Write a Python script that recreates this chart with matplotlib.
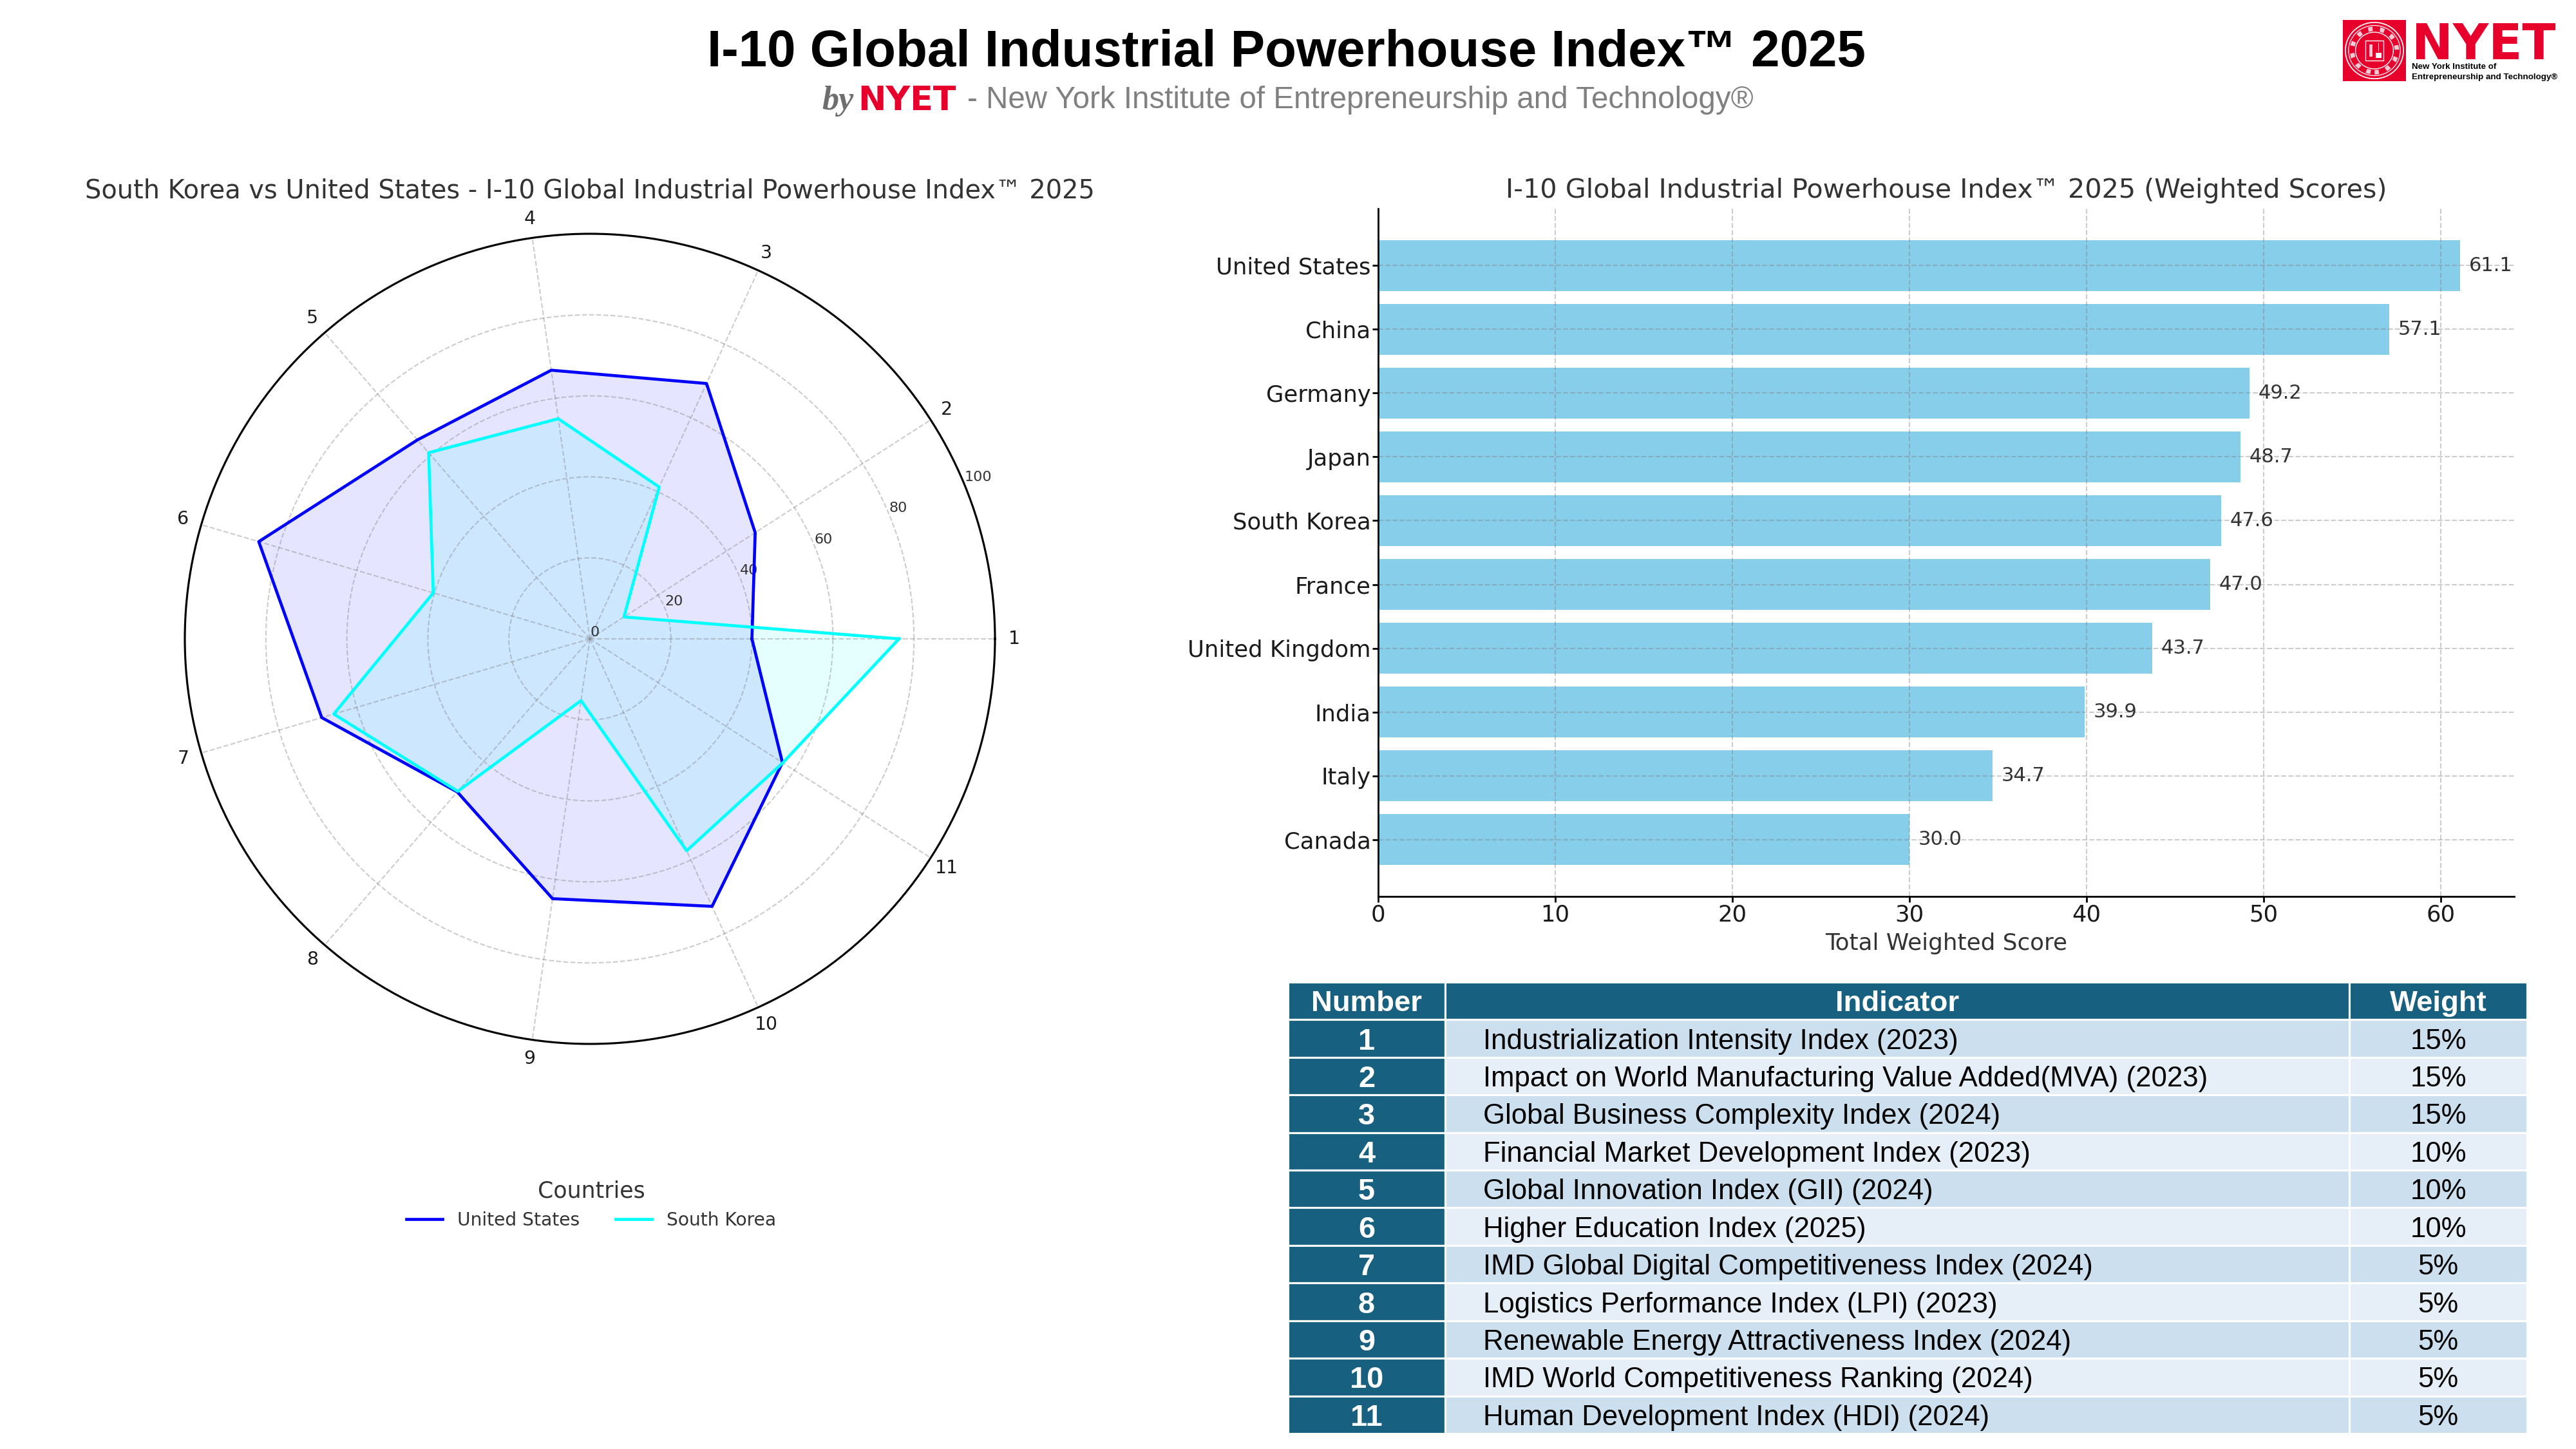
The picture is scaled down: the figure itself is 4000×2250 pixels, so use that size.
# -*- coding: utf-8 -*-
"""I-10 Global Industrial Powerhouse Index 2025: radar + bars + indicator table"""
import numpy as np
import matplotlib
matplotlib.use('Agg')
import matplotlib.pyplot as plt
from matplotlib.patches import Rectangle, Circle
from matplotlib.table import Table

W, H = 4000, 2250

# radar data
axis_numbers = ['1', '2', '3', '4', '5', '6', '7', '8', '9', '10', '11']
us_scores = [40, 48.5, 69.3, 67, 65, 85.2, 69, 50, 64.8, 72.6, 56.5]
kr_scores = [76.3, 10, 41.2, 54.9, 60.8, 40.3, 65.9, 49.8, 15.4, 57.5, 56.6]

# bar data
countries = ['United States', 'China', 'Germany', 'Japan', 'South Korea',
             'France', 'United Kingdom', 'India', 'Italy', 'Canada']
weighted = [61.1, 57.1, 49.2, 48.7, 47.6, 47.0, 43.7, 39.9, 34.7, 30.0]

# table data
col_names = ['Number', 'Indicator', 'Weight']
indicators = ['Industrialization Intensity Index (2023)',
              'Impact on World Manufacturing Value Added(MVA) (2023)',
              'Global Business Complexity Index (2024)',
              'Financial Market Development Index (2023)',
              'Global Innovation Index (GII) (2024)',
              'Higher Education Index (2025)',
              'IMD Global Digital Competitiveness Index (2024)',
              'Logistics Performance Index (LPI) (2023)',
              'Renewable Energy Attractiveness Index (2024)',
              'IMD World Competitiveness Ranking (2024)',
              'Human Development Index (HDI) (2024)']
weights = ['15%', '15%', '15%', '10%', '10%', '10%', '5%', '5%', '5%', '5%', '5%']


def px_axes(x0, y0, x1, y1, **kw):
    # axes from pixel box, y counted from the top
    return fig.add_axes([x0 / W, 1 - y1 / H, (x1 - x0) / W, (y1 - y0) / H], **kw)


fig = plt.figure(figsize=(16, 9), dpi=250, facecolor='white')
SANS = 'Liberation Sans'
RED = '#E8002D'
DARK = '#333333'

# ---- header ----
fig.text(1998 / W, 1 - 82 / H, 'I-10 Global Industrial Powerhouse Index™ 2025', ha='center', va='center',
         fontsize=23, fontweight='bold', family=SANS, color='black')
fig.text(1276 / W, 1 - 157 / H, 'by', ha='left', va='center', fontsize=15, fontweight='bold', style='italic',
         family='Liberation Serif', color='#6e6e6e')
fig.text(1332 / W, 1 - 157 / H, 'NYET', ha='left', va='center', fontsize=15, fontweight='bold',
         family='DejaVu Sans', color=RED)
fig.text(1502 / W, 1 - 156 / H, '- New York Institute of Entrepreneurship and Technology®', ha='left', va='center',
         fontsize=13.7, family=SANS, color='#808080')

# ---- logo ----
logo = px_axes(3638, 31, 3736, 126)
logo.set_xlim(0, 1); logo.set_ylim(0, 1); logo.axis('off')
logo.add_patch(Rectangle((0, 0), 1, 1, color=RED))
for r, lw in [(0.46, 0.5), (0.41, 0.35), (0.30, 0.4)]:
    logo.add_patch(Circle((0.5, 0.5), r, fill=False, ec='white', lw=lw))
logo.add_patch(Circle((0.5, 0.5), 0.355, fill=False, ec='#f9c9d3', lw=2.0, ls=':'))
logo.add_patch(Rectangle((0.36, 0.34), 0.28, 0.32, fill=False, ec='white', lw=0.4))
logo.add_patch(Rectangle((0.52, 0.38), 0.09, 0.08, color='white', lw=0))
logo.add_patch(Rectangle((0.56, 0.48), 0.012, 0.15, color='white', lw=0))
logo.add_patch(Rectangle((0.42, 0.40), 0.05, 0.20, color='#f9c9d3', lw=0))
fig.text(3745 / W, 1 - 92 / H, 'NYET', ha='left', va='baseline', fontsize=22, fontweight='bold',
         family='DejaVu Sans', color=RED)
fig.text(3745 / W, 1 - 104 / H, 'New York Institute of', ha='left', va='center', fontsize=3.85, fontweight='bold',
         family=SANS, color='black')
fig.text(3745 / W, 1 - 120 / H, 'Entrepreneurship and Technology®', ha='left', va='center', fontsize=3.85,
         fontweight='bold', family=SANS, color='black')

# ---- radar ----
ax1 = px_axes(916 - 629, 992 - 629, 916 + 629, 992 + 629, projection='polar')
angles = np.linspace(0, 2 * np.pi, len(axis_numbers), endpoint=False)
for vals, name, color in [(us_scores, 'United States', 'blue'), (kr_scores, 'South Korea', 'cyan')]:
    th = np.append(angles, angles[0])
    rr = np.append(vals, vals[0])
    ax1.plot(th, rr, color=color, lw=1.35, label=name)
    ax1.fill(th, rr, color=color, alpha=0.1, lw=0)
ax1.set_ylim(0, 100)
ax1.set_yticks([0, 20, 40, 60, 80, 100])
ax1.tick_params(axis='y', labelsize=6.4, labelcolor=DARK)
ax1.set_thetagrids(np.degrees(angles), axis_numbers, fontsize=8.2, color='#1a1a1a')
ax1.tick_params(axis='x', pad=-2)
ax1.grid(True, color='gray', ls='--', lw=0.6, alpha=0.4)
ax1.spines['polar'].set_linewidth(0.9)
fig.text(916 / W, 1 - 297 / H, 'South Korea vs United States - I-10 Global Industrial Powerhouse Index™ 2025',
         ha='center', va='center', fontsize=11.47, color=DARK)
leg = ax1.legend(loc='center', bbox_to_anchor=(918 / W, 1 - 1871 / H), bbox_transform=fig.transFigure, ncol=2,
                 frameon=False, title='Countries', fontsize=8.1, title_fontsize=10, labelcolor=DARK)
leg.get_title().set_color(DARK)

# ---- bars ----
ax2 = px_axes(2140, 324, 3904, 1392)
bars = ax2.barh(countries, weighted, color='skyblue')
ax2.invert_yaxis()
ax2.set_xlim(0, max(weighted) * 1.05)
for b, v in zip(bars, weighted):
    ax2.text(v + 0.5, b.get_y() + b.get_height() / 2, f'{v:.1f}', va='center', ha='left', fontsize=8.8, color=DARK)
ax2.grid(True, color='gray', ls='--', lw=0.6, alpha=0.4)
ax2.spines['top'].set_visible(False); ax2.spines['right'].set_visible(False)
ax2.tick_params(axis='both', labelsize=10.2, labelcolor='#1a1a1a', length=2.5, pad=0.8)
ax2.set_xlabel('Total Weighted Score', fontsize=10.3, color=DARK, labelpad=3)
ax2.set_title('I-10 Global Industrial Powerhouse Index™ 2025 (Weighted Scores)', fontsize=11.9, color=DARK, pad=5)

# ---- table ----
ax3 = px_axes(2000, 1525, 3924, 2226)
ax3.axis('off')
tb = Table(ax3, bbox=[0, 0, 1, 1])
tb.auto_set_font_size(False)
col_w = [245, 1410, 277]
HEAD = '#17607F'
rows = [col_names] + [[str(i + 1), indicators[i], weights[i]] for i in range(len(indicators))]
for r, cells in enumerate(rows):
    for c, txt in enumerate(cells):
        if r == 0 or c == 0:
            fc = HEAD
        else:
            fc = '#CBDFEE' if r % 2 == 1 else '#E6EEF7'
        loc = 'left' if (r > 0 and c == 1) else 'center'
        cell = tb.add_cell(r, c, col_w[c], 1, text=txt, loc=loc, facecolor=fc, edgecolor='white')
        cell.set_linewidth(0.9)
        cell.PAD = 0.042 if loc == 'left' else 0.1
        t = cell.get_text()
        t.set_family(SANS)
        t.set_verticalalignment('center_baseline')
        if r == 0:
            t.set_color('white'); t.set_fontweight('bold'); t.set_fontsize(13.1)
        elif c == 0:
            t.set_color('white'); t.set_fontweight('bold'); t.set_fontsize(13.5)
        else:
            t.set_color('black'); t.set_fontsize(12.6)
ax3.add_table(tb)

fig.savefig('out.png', dpi=250)
